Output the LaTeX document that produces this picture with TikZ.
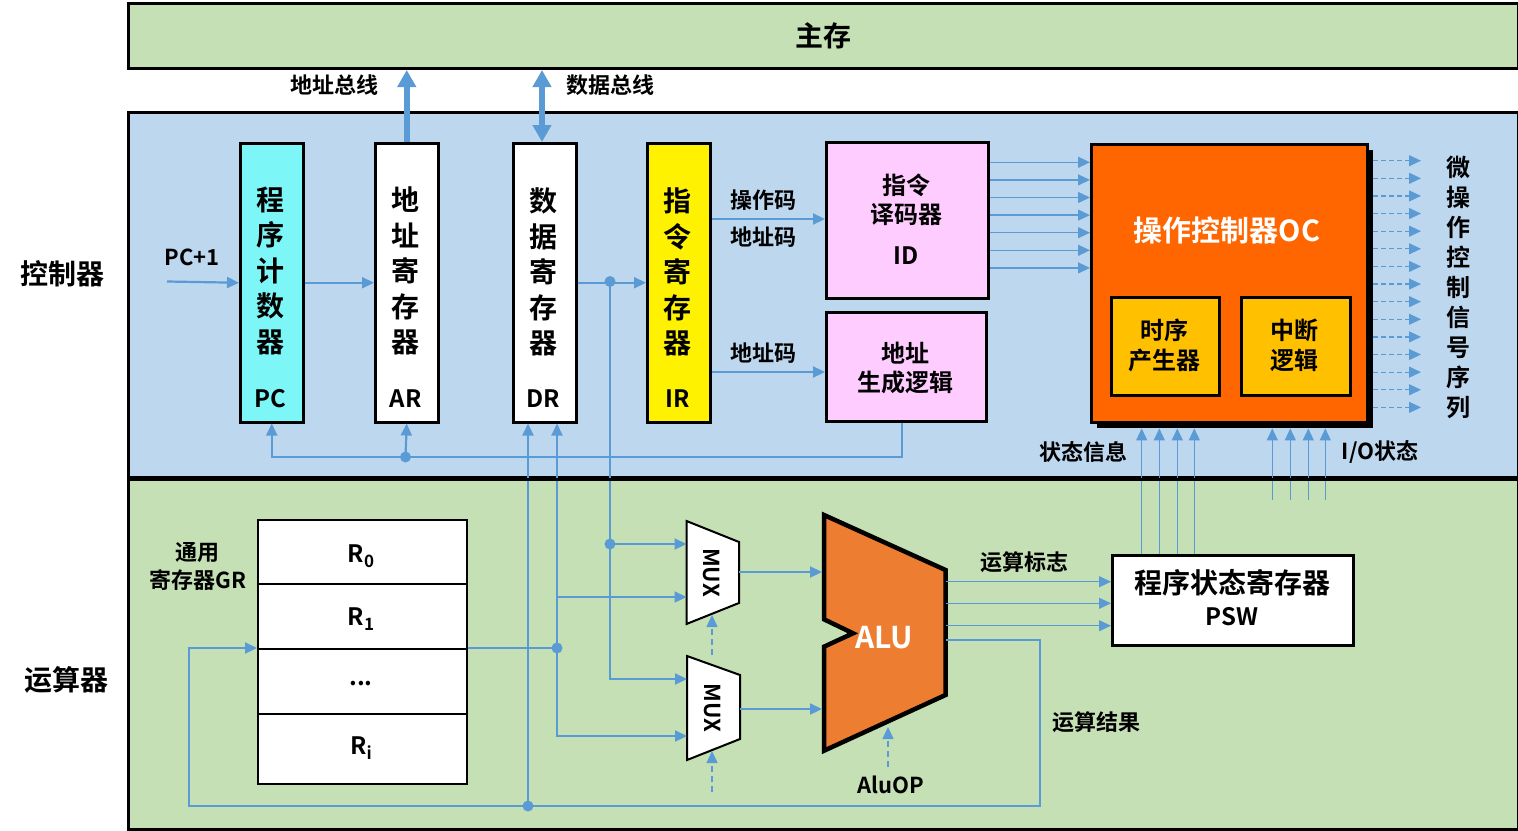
\documentclass[tikz,border=0pt]{standalone}
\usepackage{fontspec}
\setmainfont{Noto Sans CJK SC}[BoldFont={Noto Sans CJK SC Bold}]
\usetikzlibrary{arrows.meta,calc}
\definecolor{lblue}{HTML}{BDD7EE}
\definecolor{lgreen}{HTML}{C5E0B4}
\definecolor{wirec}{HTML}{5B9BD5}
\definecolor{cyanpc}{HTML}{7DF6F8}
\definecolor{pinkid}{HTML}{FFCCFF}
\definecolor{ocorange}{HTML}{FF6600}
\definecolor{goldc}{HTML}{FFC000}
\definecolor{aluorange}{HTML}{ED7D31}
\newcommand\rsub[1]{R\raisebox{-5pt}{\fontsize{17}{17}\selectfont #1}}
\tikzset{
  box/.style={draw=black, line width=2.5pt, inner sep=0pt, anchor=north west},
  txt/.style={inner sep=0pt, font=\bfseries\fontsize{22}{24}\selectfont},
  mid/.style={inner sep=0pt, font=\bfseries\fontsize{24}{26}\selectfont},
  big/.style={inner sep=0pt, font=\bfseries\fontsize{28}{30}\selectfont},
  vt/.style={inner sep=0pt, align=center, font=\bfseries\fontsize{28}{35.5}\selectfont},
  wire/.style={draw=wirec, line width=2.2pt},
  thinw/.style={draw=wirec, line width=1.3pt},
  dashw/.style={draw=wirec, line width=1.5pt, dash pattern=on 6pt off 4pt},
  dsig/.style={draw=wirec, line width=1.2pt, dash pattern=on 5pt off 3pt, -{Triangle[length=12pt,width=11pt]}},
  tip/.style={-{Triangle[length=12pt,width=11pt]}},
  bus/.style={draw=wirec, line width=6pt},
  dotn/.style={circle, fill=wirec, minimum size=11pt, inner sep=0pt},
}
\begin{document}
\begin{tikzpicture}[x=1pt,y=-1pt]
\useasboundingbox (0,0) rectangle (1518,830);
\fill[white] (0,0) rectangle (1518,830);

% regions
\node[box, line width=3pt, fill=lgreen, minimum width=1390pt, minimum height=65pt] (mem) at (127,2) {};
\node[big] (memt) at (mem.center) {主存};
\node[box, line width=3pt, fill=lblue, minimum width=1390pt, minimum height=365pt] (ctrl) at (127,111) {};
\node[box, line width=3pt, fill=lgreen, minimum width=1390pt, minimum height=352pt] (alureg) at (127,476) {};
\node[big] (ctrlt) at (62,274) {控制器};
\node[big] (alut) at (66,680) {运算器};

% registers
\node[box, fill=cyanpc, minimum width=63pt, minimum height=279pt] (pc) at (239,142) {};
\node[box, fill=white, minimum width=63pt, minimum height=279pt] (ar) at (374,142) {};
\node[box, fill=white, minimum width=63pt, minimum height=279pt] (dr) at (512,142) {};
\node[box, fill=yellow, minimum width=63pt, minimum height=279pt] (ir) at (646,142) {};
\node[vt] (pct) at (270.5,271) {程\\序\\计\\数\\器};
\node[vt] (art) at (405.5,271) {地\\址\\寄\\存\\器};
\node[vt] (drt) at (543.5,272) {数\\据\\寄\\存\\器};
\node[vt] (irt) at (677.5,272) {指\\令\\寄\\存\\器};
\node[mid] (pcl) at (270.5,399) {PC};
\node[mid] (arl) at (405.5,399) {AR};
\node[mid] (drl) at (543.5,399) {DR};
\node[mid] (irl) at (677.5,399) {IR};

% ID and address logic
\node[box, fill=pinkid, minimum width=162pt, minimum height=156pt] (id) at (825,141) {};
\node[mid] (idt1) at (906,185) {指令};
\node[mid] (idt2) at (906,215) {译码器};
\node[mid] (idt3) at (906,256) {ID};
\node[box, fill=pinkid, minimum width=160pt, minimum height=109pt] (al) at (825,311) {};
\node[mid] (alt1) at (905,353) {地址};
\node[mid] (alt2) at (905,382) {生成逻辑};

% OC
\node[anchor=north west, fill=black, minimum width=276pt, minimum height=278pt, inner sep=0pt] (ocshadow) at (1097,150) {};
\node[box, line width=3pt, fill=ocorange, minimum width=276pt, minimum height=278pt] (oc) at (1090,143) {};
\node[inner sep=0pt, text=white, font=\bfseries\fontsize{29}{31}\selectfont] (oct) at (1227,230) {操作控制器OC};
\node[box, fill=goldc, minimum width=108pt, minimum height=98pt] (tg) at (1110,296) {};
\node[box, fill=goldc, minimum width=109pt, minimum height=98pt] (il) at (1240,296) {};
\node[mid] (tgt1) at (1164,330) {时序};
\node[mid] (tgt2) at (1164,360) {产生器};
\node[mid] (ilt1) at (1294.5,330) {中断};
\node[mid] (ilt2) at (1294.5,360) {逻辑};
\node[inner sep=0pt, align=center, font=\bfseries\fontsize{24}{30}\selectfont] (sigt) at (1458,287) {微\\操\\作\\控\\制\\信\\号\\序\\列};

% bus labels and arrows
\node[txt] (abl) at (334,85) {地址总线};
\node[txt] (dbl) at (610,85) {数据总线};
\draw[bus, -{Triangle[length=17pt,width=18pt]}] (ar.north) -- (ar.north |- mem.south);
\coordinate (dbx) at (542,0);
\draw[bus, {Triangle[length=17pt,width=18pt]}-{Triangle[length=17pt,width=18pt]}] (dbx |- mem.south) -- (dbx |- dr.north);

% control-unit connectors
\coordinate (pcin) at (167,281.5);
\node[txt] (pc1) at (192,257) {PC+1};
\draw[wire,tip] (pcin) -- (pc.west);
\draw[wire,tip] (pc.east) -- (ar.west);
\node[dotn] (jdr) at (610,281.5) {};
\draw[wire,tip] (dr.east) -- (ir.west);
\coordinate (iry1) at (0,219);
\coordinate (iry2) at (0,372);
\draw[wire,tip] (ir.east |- iry1) -- (id.west |- iry1);
\draw[wire,tip] (ir.east |- iry2) -- (al.west |- iry2);
\node[txt] (opc) at (763,200) {操作码};
\node[txt] (adc1) at (763,237) {地址码};
\node[txt] (adc2) at (763,353) {地址码};
\foreach \k in {0,...,6}{
  \pgfmathsetmacro\yy{162.3+17.6*\k}
  \coordinate (ido\k) at (0,\yy);
  \draw[thinw,tip] (id.east |- ido\k) -- (oc.west |- ido\k);
}
\foreach \k in {0,...,14}{
  \pgfmathsetmacro\yy{160.7+17.62*\k}
  \coordinate (sig\k) at (1421,\yy);
  \draw[dsig] (ocshadow.east |- sig\k) -- (sig\k);
}
\coordinate (alb) at (902,457);
\node[dotn] (jar) at (405.5,457) {};
\draw[wire,tip] (al.south -| alb) -- (alb) -- (alb -| pc.south) -- (pc.south);
\draw[wire,tip] (jar.center) -- (ar.south);

% ALU section
\node[box, line width=2pt, fill=white, minimum width=209pt, minimum height=64pt] (r0) at (257,519) {};
\node[box, line width=2pt, fill=white, minimum width=209pt, minimum height=65pt] (r1) at (257,583) {};
\node[box, line width=2pt, fill=white, minimum width=209pt, minimum height=65pt] (r2) at (257,648) {};
\node[box, line width=2pt, fill=white, minimum width=209pt, minimum height=70pt] (ri) at (257,713) {};
\node[mid] (r0t) at (361,556) {\rsub{0}};
\node[mid] (r1t) at (361,619) {\rsub{1}};
\node[mid] (r2t) at (361,684) {...};
\node[mid] (rit) at (361,748) {\rsub{i}};
\node[txt] (grt1) at (197,552) {通用};
\node[txt] (grt2) at (198,580) {寄存器GR};

% MUX shapes
\draw[line width=2pt, fill=white, line join=miter] (686.5,521) -- (739,542) -- (739,603) -- (686.5,624) -- cycle;
\draw[line width=2pt, fill=white, line join=miter] (687,656) -- (740,675) -- (740,739) -- (687,760) -- cycle;
\node[txt, rotate=-90] (mux1) at (711,572.5) {MUX};
\node[txt, rotate=-90] (mux2) at (712,708) {MUX};

% ALU shape
\draw[line width=4.5pt, fill=aluorange, line join=miter] (824,515) -- (945.5,570) -- (945.5,695) -- (824,750.7) -- (824,646.7) -- (853,633.3) -- (824,619.3) -- cycle;
\node[inner sep=0pt, text=white, font=\bfseries\fontsize{30}{32}\selectfont] (alutxt) at (884,638) {ALU};
\node[txt] (aluop) at (891,785) {AluOP};

% PSW
\node[box, fill=white, minimum width=241pt, minimum height=90pt] (psw) at (1111,554) {};
\node[inner sep=0pt, font=\bfseries\fontsize{28}{30}\selectfont] (pswt1) at (1232,583) {程序状态寄存器};
\node[mid] (pswt2) at (1232,617) {PSW};
\node[txt] (flagt) at (1024,562) {运算标志};
\node[txt] (rest) at (1096,722) {运算结果};
\node[txt] (stt) at (1083,452) {状态信息};
\node[txt] (iot) at (1380,452) {I/O状态};

% datapath connectors
\coordinate (m1a) at (686.5,544);
\coordinate (m1b) at (686.5,597);
\coordinate (m2a) at (687,679);
\coordinate (m2b) at (687,736);
\node[dotn] (jm) at (610,544) {};
\node[dotn] (jgr) at (557,648) {};
\node[dotn] (jres) at (528,806) {};
\coordinate (b597) at (557,597);
\draw[wire,tip] (jdr.center) -- (jdr.center |- m2a) -- (m2a);
\draw[wire,tip] (jm.center) -- (m1a);
\draw[wire] (r2.north east) -- (jgr.center);
\draw[wire,tip] (jgr.center) -- (jgr.center |- dr.south);
\draw[wire,tip] (jgr.center) -- (jgr.center |- m2b) -- (m2b);
\draw[wire,tip] (b597) -- (m1b);
% mux outputs
\coordinate (a1) at (822,572);
\coordinate (a2) at (822,709);
\coordinate (mo1) at (739,572);
\coordinate (mo2) at (740,709);
\draw[wire,tip] (mo1) -- (a1);
\draw[wire,tip] (mo2) -- (a2);
% control dashed
\coordinate (c1a) at (712,655);
\coordinate (c1b) at (712,615);
\coordinate (c2a) at (712,792);
\coordinate (c2b) at (712,751);
\coordinate (c3a) at (888,767);
\coordinate (c3b) at (888,727);
\draw[dashw,tip] (c1a) -- (c1b);
\draw[dashw,tip] (c2a) -- (c2b);
\draw[dashw,tip] (c3a) -- (c3b);
% ALU to PSW
\foreach \yy in {581.7,603.3,625.7}{
  \coordinate (fl) at (945.5,\yy);
  \draw[thinw,tip] (fl) -- (psw.west |- fl);
}
% ALU result loop
\coordinate (ro1) at (945.5,640);
\coordinate (ro2) at (1040,806);
\coordinate (ro3) at (189,648);
\draw[wire,tip] (ro1) -| (ro2) -- (ro2 -| ro3) -- (ro3) -- (r2.north west);
\draw[wire,tip] (jres.center) -- (jres.center |- dr.south);
% PSW to OC
\foreach \xx in {1141.7,1159.3,1177.3,1194.3}{
  \coordinate (ps) at (\xx,554);
  \draw[thinw,tip] (ps) -- (ps |- ocshadow.south);
}
\foreach \xx in {1272.3,1290.3,1308.3,1325.3}{
  \coordinate (io) at (\xx,500);
  \draw[thinw,tip] (io) -- (io |- ocshadow.south);
}
% redraw region boundary
\draw[line width=3pt] (ctrl.south west) -- (ctrl.south east);
\end{tikzpicture}
\end{document}
